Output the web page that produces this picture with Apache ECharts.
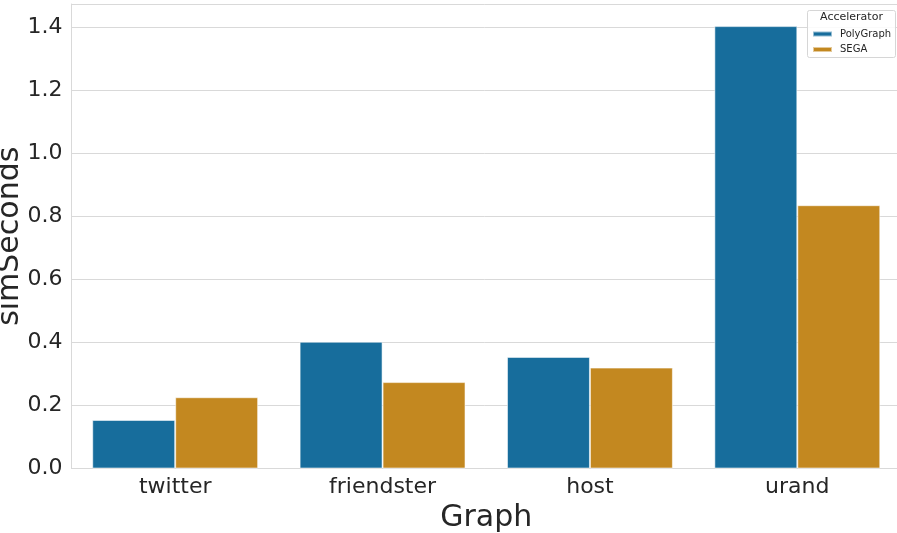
<!DOCTYPE html>
<html>
<head>
<meta charset="utf-8">
<script src="https://cdn.jsdelivr.net/npm/echarts@6/dist/echarts.min.js"></script>
<style>
  html, body { margin: 0; padding: 0; background: #ffffff; }
  #chart { width: 897px; height: 533px; }
</style>
</head>
<body>
<div id="chart"></div>
<script>
// Graphs on the x axis, one bar per accelerator
const categories = ['twitter', 'friendster', 'host', 'urand'];
const polyGraph = [0.154, 0.402, 0.354, 1.403];
const sega = [0.226, 0.274, 0.320, 0.835];
const seriesNames = ['PolyGraph', 'SEGA'];
const yTicks = [0, 0.2, 0.4, 0.6, 0.8, 1.0, 1.2, 1.4];

const FONT = 'DejaVu Sans';
const INK = '#262626';
const GRID = '#d9d9d9';
const COLORS = ['#176d9c', '#c38820'];

// Upper limit leaves 5% headroom above the tallest bar
const yMax = Math.max(...polyGraph, ...sega) * 1.05;

const chart = echarts.init(document.getElementById('chart'), null, { renderer: 'canvas' });

chart.setOption({
  animation: false,
  backgroundColor: '#ffffff',
  grid: {
    left: 71.5, top: 4, width: 829.5, height: 464.5,
    containLabel: false, outerBoundsMode: 'none'
  },
  xAxis: {
    type: 'category',
    data: categories,
    name: 'Graph',
    nameLocation: 'middle',
    nameGap: 35,
    nameMoveOverlap: false,
    nameTextStyle: { fontFamily: FONT, fontSize: 30, color: INK },
    axisLine: { show: true, lineStyle: { color: GRID, width: 1 } },
    axisTick: { show: false },
    axisLabel: { fontFamily: FONT, fontSize: 22, color: INK, margin: 8 },
    splitLine: { show: false }
  },
  yAxis: {
    type: 'value',
    min: 0,
    max: yMax,
    interval: 0.2,
    name: 'simSeconds',
    nameLocation: 'middle',
    nameGap: 46,
    nameMoveOverlap: false,
    nameTextStyle: { fontFamily: FONT, fontSize: 30, color: INK },
    axisLine: { show: true, lineStyle: { color: GRID, width: 1 } },
    axisTick: { show: false },
    axisLabel: {
      fontFamily: FONT, fontSize: 22, color: INK, margin: 9,
      showMaxLabel: false,
      formatter: v => {
        const hit = yTicks.find(t => Math.abs(t - v) < 1e-9);
        return hit === undefined ? '' : hit.toFixed(1);
      }
    },
    splitLine: { show: true, lineStyle: { color: GRID, width: 1 } }
  },
  legend: {
    data: seriesNames,
    orient: 'vertical',
    left: 812,
    top: 28,
    z: 100,
    itemWidth: 19,
    itemHeight: 5,
    itemGap: 3.5,
    padding: 0,
    icon: 'rect',
    inactiveColor: '#cccccc',
    textStyle: { fontFamily: FONT, fontSize: 10, color: INK, lineHeight: 12, padding: [0, 0, 0, 3] }
  },
  graphic: [
    {
      type: 'rect',
      z: 90,
      shape: { x: 807.5, y: 10.5, width: 88, height: 47, r: 2 },
      style: { fill: 'rgba(255,255,255,0.85)', stroke: '#d6d6d6', lineWidth: 1 }
    },
    {
      type: 'text',
      z: 91,
      style: {
        x: 851.5, y: 17.5, text: 'Accelerator',
        font: '11px "DejaVu Sans"', fill: INK,
        textAlign: 'center', textVerticalAlign: 'middle'
      }
    }
  ],
  series: [
    {
      name: seriesNames[0],
      type: 'bar',
      data: polyGraph,
      barGap: '0%',
      barCategoryGap: '20%',
      itemStyle: { color: COLORS[0], borderColor: 'rgba(255,255,255,0.55)', borderWidth: 1 }
    },
    {
      name: seriesNames[1],
      type: 'bar',
      data: sega,
      barGap: '0%',
      barCategoryGap: '20%',
      itemStyle: { color: COLORS[1], borderColor: 'rgba(255,255,255,0.55)', borderWidth: 1 }
    }
  ]
});
</script>
</body>
</html>
